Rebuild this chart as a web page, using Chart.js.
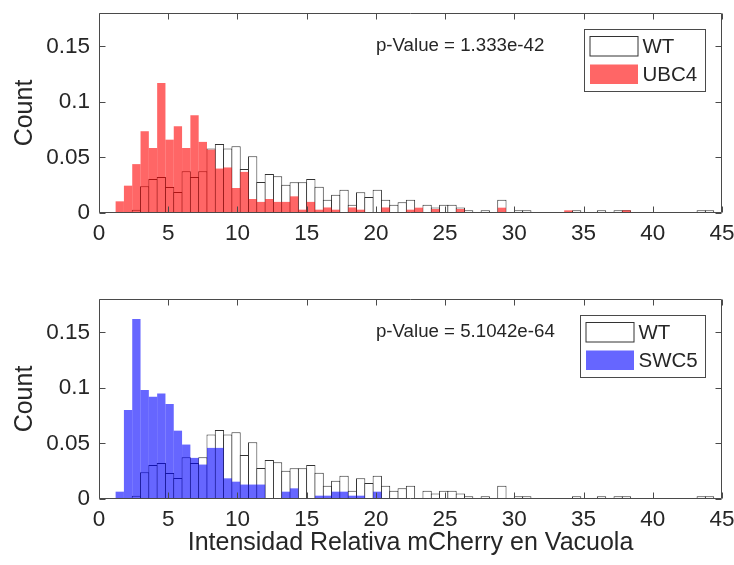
<!DOCTYPE html>
<html>
<head>
<meta charset="utf-8">
<script src="https://cdn.jsdelivr.net/npm/chart.js@4.4.1/dist/chart.umd.min.js"></script>
<style>
    body { margin: 0; background: #fff; }
    .panel { position: absolute; left: 0; width: 734px; height: 282px; }
    #top { top: 0; }
    #bottom { top: 283px; }
    canvas { display: block; }
</style>
</head>
<body>
<div class="panel" id="top"><canvas id="ubc4Chart" width="734" height="282"></canvas></div>
<div class="panel" id="bottom"><canvas id="swc5Chart" width="734" height="282"></canvas></div>
<script>
// Histogram bins (probability per bin of width 0.6, first bin starts at 1.2)
const binStart = 1.2;
const binWidth = 0.6;

const wtValues = [
    0, 0, 0.003, 0.024, 0.0306, 0.0324, 0.0234, 0.019, 0.0375, 0.0324,
    0.0375, 0.058, 0.062, 0.058, 0.060, 0.0396, 0.051, 0.028, 0.035, 0.033,
    0.0255, 0.0276, 0.0276, 0.0306, 0.0237, 0.012, 0.0165, 0.021, 0.0075, 0.0186,
    0.0144, 0.021, 0.012, 0.0075, 0.0096, 0.012, 0, 0.0075, 0.005, 0.0075,
    0.0075, 0.005, 0.0024, 0, 0.0024, 0, 0.012, 0, 0.0024, 0.0024,
    0, 0, 0, 0, 0, 0.0024, 0, 0, 0.0024, 0,
    0.0024, 0.0024, 0, 0, 0, 0, 0, 0, 0, 0,
    0.0024, 0.0024
];

const ubc4Values = [
    0.0105, 0.0246, 0.044, 0.0736, 0.0585, 0.117, 0.066, 0.078, 0.0585, 0.088,
    0.064, 0.057, 0.040, 0.041, 0.0225, 0.037, 0.0126, 0.010, 0.0126, 0.010,
    0.010, 0.015, 0.003, 0.010, 0.003, 0.005, 0.003, 0, 0.005, 0.003,
    0, 0, 0.005, 0, 0, 0.003, 0.0048, 0, 0.0036, 0,
    0, 0.0036, 0, 0, 0, 0, 0.0048, 0, 0, 0,
    0, 0, 0, 0, 0.0024, 0, 0, 0, 0, 0,
    0, 0.0024, 0, 0, 0, 0, 0, 0, 0, 0,
    0, 0
];

const swc5Values = [
    0.0066, 0.080, 0.162, 0.098, 0.092, 0.095, 0.0855, 0.0615, 0.049, 0.037,
    0.031, 0.046, 0.046, 0.0186, 0.0156, 0.013, 0.013, 0.013, 0, 0,
    0.0066, 0.0096, 0, 0, 0.003, 0.003, 0.0066, 0.0066, 0.003, 0.003,
    0, 0.0066, 0, 0, 0, 0, 0, 0, 0, 0,
    0, 0, 0, 0, 0, 0, 0, 0, 0, 0,
    0, 0, 0, 0, 0, 0, 0, 0, 0, 0,
    0, 0, 0, 0, 0, 0, 0, 0, 0, 0,
    0, 0
];

const xTicks = [0, 5, 10, 15, 20, 25, 30, 35, 40, 45];
const yTicks = [0, 0.05, 0.1, 0.15];

const FONT = '"Liberation Sans", Arial, Helvetica, sans-serif';
const TEXT = '#262626';

function toPoints(values) {
    return values.map((v, i) => ({ x: binStart + binWidth * (i + 0.5), y: v }));
}

// Box, inward ticks, p-value text and legend, MATLAB style
const framePlugin = {
    id: 'frame',
    afterDraw(chart, args, opts) {
        const { ctx, chartArea: a, scales: { x, y } } = chart;
        const l = Math.round(a.left) + 0.5, r = Math.round(a.right) - 0.5;
        const t = Math.round(a.top) + 0.5, b = Math.round(a.bottom) - 0.5;
        ctx.save();
        ctx.strokeStyle = '#4a4a4a';
        ctx.lineWidth = 1;
        ctx.beginPath();
        ctx.rect(l, t, r - l, b - t);
        xTicks.forEach(v => {
            const px = Math.round(x.getPixelForValue(v)) + 0.5;
            ctx.moveTo(px, b); ctx.lineTo(px, b - 6);
            ctx.moveTo(px, t); ctx.lineTo(px, t + 6);
        });
        yTicks.forEach(v => {
            const py = Math.round(y.getPixelForValue(v)) + 0.5;
            ctx.moveTo(l, py); ctx.lineTo(l + 6, py);
            ctx.moveTo(r, py); ctx.lineTo(r - 6, py);
        });
        ctx.stroke();

        // p-value annotation
        ctx.fillStyle = TEXT;
        ctx.font = '18.7px ' + FONT;
        ctx.textBaseline = 'middle';
        ctx.textAlign = 'left';
        ctx.fillText(opts.pText, x.getPixelForValue(20), y.getPixelForValue(0.15));

        // legend
        const rows = [chart.data.datasets[1], chart.data.datasets[0]];
        ctx.font = '20.5px ' + FONT;
        const textW = Math.max(...rows.map(d => ctx.measureText(d.label).width));
        const boxW = Math.round(5.5 + 48 + 4.5 + textW + 8);
        const boxH = 62;
        const bx = Math.round(a.right - 17 - boxW) + 0.5;
        const by = Math.round(a.top + 16) + 0.5;
        ctx.fillStyle = '#fff';
        ctx.fillRect(bx, by, boxW, boxH);
        ctx.strokeStyle = '#4a4a4a';
        ctx.strokeRect(bx, by, boxW, boxH);
        rows.forEach((d, i) => {
            const cy = by + 16.5 + i * 28;
            const sx = bx + 5.5, sy = Math.round(cy - 9.75) + 0.5;
            ctx.fillStyle = d.backgroundColor;
            ctx.fillRect(sx, sy, 48, 19.5);
            if (d.borderWidth) {
                ctx.strokeStyle = '#333';
                ctx.strokeRect(sx, sy, 48, 19.5);
            }
            ctx.fillStyle = TEXT;
            ctx.fillText(d.label, sx + 48 + 4.5, cy + 1);
        });
        ctx.restore();
    }
};

function makeChart(canvasId, values, name, fill, pText, padTop, axisH, showTitle) {
    return new Chart(document.getElementById(canvasId), {
        type: 'bar',
        data: {
            datasets: [
                {
                    label: name,
                    data: toPoints(values),
                    backgroundColor: fill,
                    borderWidth: 0,
                    inflateAmount: 0,
                    grouped: false,
                    barPercentage: 1,
                    categoryPercentage: 1,
                    order: 0
                },
                {
                    label: 'WT',
                    data: toPoints(wtValues),
                    backgroundColor: '#ffffff',
                    borderColor: '#333333',
                    borderWidth: 1,
                    borderSkipped: 'start',
                    inflateAmount: 0,
                    grouped: false,
                    barPercentage: 1.12,
                    categoryPercentage: 1,
                    order: 1
                }
            ]
        },
        options: {
            responsive: false,
            devicePixelRatio: 1,
            animation: false,
            layout: { padding: { top: padTop, right: 12, left: 0, bottom: 0 } },
            plugins: {
                legend: { display: false },
                tooltip: { enabled: false },
                frame: { pText: pText }
            },
            scales: {
                x: {
                    type: 'linear',
                    min: 0,
                    max: 45,
                    offset: false,
                    grid: { display: false, drawTicks: false },
                    border: { display: false },
                    afterBuildTicks: s => { s.ticks = xTicks.map(v => ({ value: v })); },
                    ticks: { color: TEXT, font: { family: FONT, size: 22.5 }, padding: 7.5, maxRotation: 0, autoSkip: false },
                    title: {
                        display: showTitle,
                        text: 'Intensidad Relativa mCherry en Vacuola',
                        color: TEXT,
                        font: { family: FONT, size: 25 },
                        padding: { top: 0, bottom: 7 }
                    },
                    afterFit: s => { s.height = axisH; s.paddingLeft = 0; s.paddingRight = 0; }
                },
                y: {
                    min: 0,
                    max: 0.18,
                    grid: { display: false, drawTicks: false },
                    border: { display: false },
                    afterBuildTicks: s => { s.ticks = yTicks.map(v => ({ value: v })); },
                    ticks: { color: TEXT, font: { family: FONT, size: 22.5 }, padding: 9, callback: v => String(v) },
                    title: {
                        display: true,
                        text: 'Count',
                        color: TEXT,
                        font: { family: FONT, size: 25 },
                        padding: { top: 10, bottom: 0 }
                    },
                    afterFit: s => { s.width = 99; s.paddingTop = 0; s.paddingBottom = 0; }
                }
            }
        },
        plugins: [framePlugin]
    });
}

makeChart('ubc4Chart', ubc4Values, 'UBC4', 'rgba(255, 0, 0, 0.6)', 'p-Value = 1.333e-42', 13, 69, false);
makeChart('swc5Chart', swc5Values, 'SWC5', 'rgba(0, 0, 255, 0.6)', 'p-Value = 5.1042e-64', 16, 66, true);
</script>
</body>
</html>
